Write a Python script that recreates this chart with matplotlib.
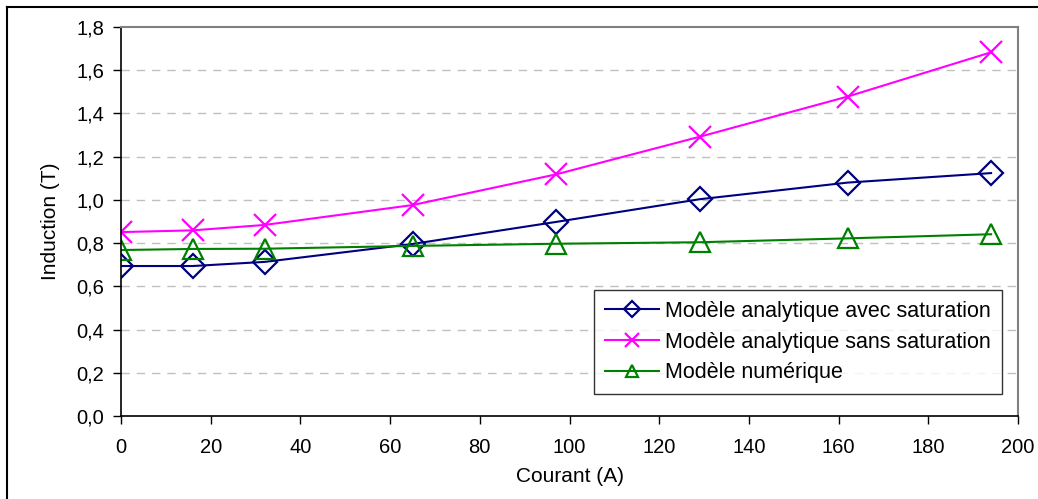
import matplotlib
matplotlib.use("Agg")
import matplotlib.pyplot as plt
from matplotlib.lines import Line2D
from matplotlib.ticker import FuncFormatter

courant = [0, 16, 32, 65, 97, 129, 162, 194]
avec_saturation = [0.694, 0.694, 0.713, 0.796, 0.898, 1.003, 1.080, 1.124]
sans_saturation = [0.851, 0.859, 0.884, 0.976, 1.118, 1.292, 1.478, 1.683]
numerique = [0.768, 0.773, 0.774, 0.787, 0.797, 0.804, 0.822, 0.841]
labels = ["Modèle analytique avec saturation",
          "Modèle analytique sans saturation",
          "Modèle numérique"]

plt.rcParams['font.family'] = ['Liberation Sans', 'DejaVu Sans']

fig = plt.figure(figsize=(10.38, 4.99), dpi=100)
ax = fig.add_axes([121/1038, 1 - 416/499, (1018-121)/1038, (416-27)/499])

ax.plot(courant, avec_saturation, color='#000080', lw=1.5, marker='D',
        markersize=12, markerfacecolor='none', markeredgewidth=1.6, label=labels[0])
ax.plot(courant, sans_saturation, color='#FF00FF', lw=1.5, marker='x',
        markersize=16, markeredgewidth=1.6, label=labels[1])
ax.plot(courant, numerique, color='#008000', lw=1.5, marker='^',
        markersize=14, markerfacecolor='none', markeredgewidth=1.6, label=labels[2])

ax.set_xlim(0, 200)
ax.set_ylim(0, 1.8)
ax.set_xticks(range(0, 201, 20))
ax.set_yticks([i * 0.2 for i in range(10)])
ax.yaxis.set_major_formatter(FuncFormatter(lambda v, p: f"{v:.1f}".replace('.', ',')))
ax.tick_params(direction='out', length=6, width=1, labelsize=14.5, colors='black', pad=6)
ax.tick_params(axis='x', pad=10)
for yv in [i * 0.2 for i in range(1, 9)]:
    ax.axhline(yv, color='#c0c0c0', lw=1, ls=(0, (6, 5)), zorder=0)

for s in ['top', 'right']:
    ax.spines[s].set_color('#808080')
    ax.spines[s].set_linewidth(1.5)
for s in ['left', 'bottom']:
    ax.spines[s].set_color('black')
    ax.spines[s].set_linewidth(1.2)

ax.set_xlabel("Courant (A)", fontsize=15, labelpad=7)
ax.set_ylabel("Induction (T)", fontsize=15, labelpad=12)

leg = ax.legend(loc='lower right', bbox_to_anchor=(1002/1038, 1 - 394/499),
                bbox_transform=fig.transFigure, fontsize=15.5, frameon=True,
                fancybox=False, shadow=False, borderpad=0.5, labelspacing=0.45,
                handlelength=2.5, handletextpad=0.3, borderaxespad=0,
                markerscale=0.65)
leg.get_frame().set_edgecolor('black')
leg.get_frame().set_linewidth(1.0)

fig.add_artist(Line2D([7/1038, 7/1038], [0, 1 - 7/499], color='black', lw=1.5,
                      transform=fig.transFigure))
fig.add_artist(Line2D([7/1038, 1], [1 - 7/499, 1 - 7/499], color='black', lw=1.5,
                      transform=fig.transFigure))

fig.savefig("out.png", dpi=100)
